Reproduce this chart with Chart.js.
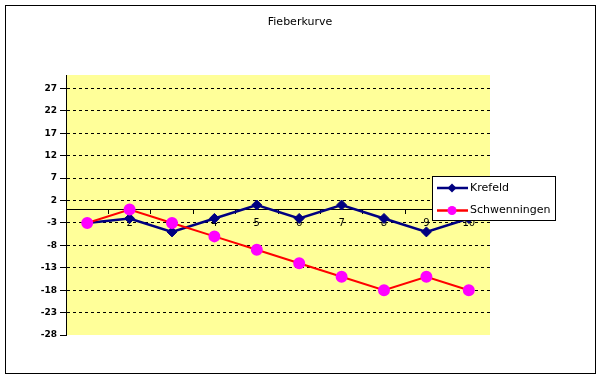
<!DOCTYPE html>
<html><head><meta charset="utf-8">
<script src="https://cdn.jsdelivr.net/npm/chart.js@4/dist/chart.umd.min.js"></script>
<style>html,body{margin:0;padding:0;background:#fff}#wrap{width:601px;height:379px;position:relative}</style>
</head><body>
<div id="wrap"><canvas id="c" width="601" height="379"></canvas></div>
<script>
const chartTitle = 'Fieberkurve';
const categories = ['1','2','3','4','5','6','7','8','9','10'];
const krefeld = [-3, -2, -5, -2, 1, -2, 1, -2, -5, -2];
const schwenningen = [-3, 0, -3, -6, -9, -12, -15, -18, -15, -18];
const yTicks = [-28, -23, -18, -13, -8, -3, 2, 7, 12, 17, 22, 27];
const yMin = -28, yMax = 30;
const FONT = "'DejaVu Sans', Tahoma, sans-serif";

const decor = {
  id: 'decor',
  beforeDraw(chart) {
    const ctx = chart.ctx, a = chart.chartArea;
    ctx.save();
    ctx.fillStyle = '#fff';
    ctx.fillRect(0, 0, chart.width, chart.height);
    ctx.fillStyle = '#FFFF99';
    ctx.fillRect(a.left, a.top, a.right - a.left, a.bottom - a.top);
    ctx.strokeStyle = '#000'; ctx.lineWidth = 1;
    ctx.strokeRect(5.5, 5.5, 590, 368);
    ctx.fillStyle = '#000';
    ctx.font = "11px " + FONT;
    ctx.textAlign = 'center'; ctx.textBaseline = 'middle';
    ctx.fillText(chartTitle, 300, 22);
    ctx.restore();
  },
  afterDraw(chart) {
    const ctx = chart.ctx;
    ctx.save();
    const x0 = 432.5, y0 = 176.5, w = 123, h = 44;
    ctx.fillStyle = '#fff'; ctx.fillRect(x0, y0, w, h);
    ctx.strokeStyle = '#000'; ctx.lineWidth = 1; ctx.strokeRect(x0, y0, w, h);
    ctx.font = "11px " + FONT; ctx.textAlign = 'left'; ctx.textBaseline = 'middle';
    chart.data.datasets.forEach((ds, i) => {
      const cy = 188 + i * 22.5;
      ctx.strokeStyle = ds.borderColor; ctx.lineWidth = 2.5;
      ctx.beginPath(); ctx.moveTo(437, cy); ctx.lineTo(468, cy); ctx.stroke();
      ctx.fillStyle = ds.pointBackgroundColor;
      ctx.beginPath();
      if (ds.pointStyle === 'rectRot') {
        ctx.moveTo(452, cy - 4.5); ctx.lineTo(456.5, cy); ctx.lineTo(452, cy + 4.5); ctx.lineTo(447.5, cy);
        ctx.closePath();
      } else {
        ctx.arc(452, cy, 4.5, 0, Math.PI * 2);
      }
      ctx.fill();
      ctx.fillStyle = '#000';
      ctx.fillText(ds.label, 470, cy);
    });
    ctx.restore();
  }
};

new Chart(document.getElementById('c'), {
  type: 'line',
  data: {
    labels: categories,
    datasets: [
      { label: 'Krefeld', data: krefeld, borderColor: '#000080', backgroundColor: '#000080',
        pointBackgroundColor: '#000080', pointBorderColor: '#000080', pointStyle: 'rectRot',
        pointRadius: 5, pointBorderWidth: 1, borderWidth: 2.5, tension: 0, order: 1 },
      { label: 'Schwenningen', data: schwenningen, borderColor: '#FF0000', backgroundColor: '#FF00FF',
        pointBackgroundColor: '#FF00FF', pointBorderColor: '#FF00FF', pointStyle: 'circle',
        pointRadius: 5, borderWidth: 2, tension: 0, order: 0 }
    ]
  },
  options: {
    responsive: false, animation: false, devicePixelRatio: 1,
    layout: { padding: { left: 0, right: 111, top: 75, bottom: 44 } },
    plugins: { legend: { display: false }, title: { display: false }, tooltip: { enabled: false } },
    scales: {
      x: {
        type: 'category', offset: true, position: { y: 0 },
        grid: { display: true, drawOnChartArea: false, drawTicks: true, tickLength: 4, color: '#000', offset: true },
        border: { display: true, color: '#000', width: 1 },
        ticks: { color: '#000', font: { family: FONT, size: 10 }, padding: 4, maxRotation: 0, autoSkip: false }
      },
      y: {
        min: yMin, max: yMax,
        afterBuildTicks(scale) { scale.ticks = yTicks.map(v => ({ value: v })); },
        afterFit(scale) { scale.width = 66; },
        grid: {
          color: (c) => (c.tick && c.tick.value === yMin) ? 'rgba(0,0,0,0)' : '#000',
          lineWidth: 1, drawTicks: true, tickLength: 6, tickColor: '#000'
        },
        border: { display: true, color: '#000', width: 1, dash: [3, 3] },
        ticks: { color: '#000', font: { family: FONT, size: 9, weight: 'bold' }, padding: 3 }
      }
    }
  },
  plugins: [decor]
});
</script>
</body></html>
